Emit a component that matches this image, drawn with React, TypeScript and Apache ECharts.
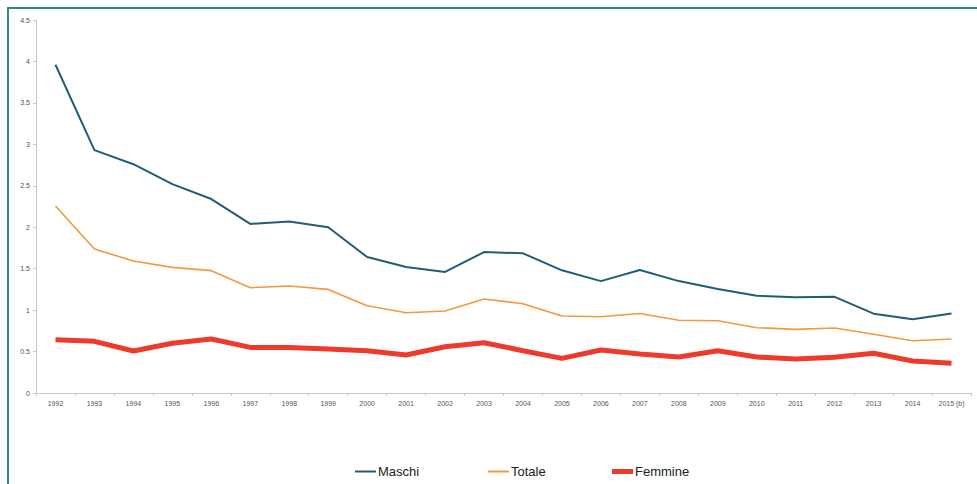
import React, { useEffect, useRef } from "react";
import * as echarts from "echarts";

const years = [
  "1992", "1993", "1994", "1995", "1996", "1997", "1998", "1999", "2000", "2001", "2002", "2003",
  "2004", "2005", "2006", "2007", "2008", "2009", "2010", "2011", "2012", "2013", "2014", "2015 (b)",
];

const maschi = [
  3.96, 2.93, 2.76, 2.52, 2.34, 2.04, 2.07, 2.0, 1.64, 1.52, 1.46, 1.7,
  1.685, 1.48, 1.35, 1.484, 1.35, 1.254, 1.174, 1.154, 1.16, 0.957, 0.889, 0.96,
];

const totale = [
  2.256, 1.737, 1.592, 1.516, 1.476, 1.27, 1.29, 1.25, 1.053, 0.969, 0.989, 1.134,
  1.077, 0.929, 0.92, 0.96, 0.877, 0.872, 0.788, 0.768, 0.784, 0.708, 0.631, 0.651,
];

const femmine = [
  0.643, 0.623, 0.507, 0.6, 0.651, 0.55, 0.55, 0.53, 0.51, 0.458, 0.558, 0.607,
  0.51, 0.418, 0.519, 0.47, 0.434, 0.51, 0.434, 0.41, 0.43, 0.479, 0.386, 0.358,
];

const FONT = "Liberation Sans, Arial, sans-serif";

// one legend block per series so each swatch can carry its own line thickness
function legendFor(name: string, left: number, thickness: number) {
  return {
    data: [name],
    left: left - 5,
    top: 460,
    height: 16,
    icon: "rect",
    itemWidth: 21,
    itemHeight: thickness,
    textStyle: { color: "#222", fontSize: 13, fontFamily: FONT, padding: [0, 0, 0, -3] },
  };
}

export default function App() {
  const ref = useRef<HTMLDivElement>(null);

  useEffect(() => {
    if (!ref.current) return;
    const chart = echarts.init(ref.current, null, { renderer: "svg" });
    const axisColor = "#c8c8c8";
    const labelStyle = { color: "#555555", fontSize: 7, fontFamily: FONT };
    chart.setOption({
      animation: false,
      backgroundColor: "#fff",
      graphic: [
        {
          type: "rect",
          shape: { x: 8, y: 8, width: 1100, height: 600 },
          style: { fill: "none", stroke: "#2f8a84", lineWidth: 2 },
          silent: true,
        },
      ],
      grid: { left: 36, right: 6, top: 20, bottom: 91, containLabel: false },
      legend: [
        legendFor("Maschi", 355, 2),
        legendFor("Totale", 488, 2),
        legendFor("Femmine", 612, 5),
      ],
      xAxis: {
        type: "category",
        data: years,
        boundaryGap: true,
        axisLine: { lineStyle: { color: axisColor, width: 1 } },
        axisTick: { show: true, length: 3, lineStyle: { color: axisColor } },
        axisLabel: { ...labelStyle, margin: 7, interval: 0 },
        splitLine: { show: false },
      },
      yAxis: {
        type: "value",
        min: 0,
        max: 4.5,
        interval: 0.5,
        axisLine: { show: true, lineStyle: { color: axisColor, width: 1 } },
        axisTick: { show: true, length: 3, lineStyle: { color: axisColor } },
        axisLabel: { ...labelStyle, margin: 6 },
        splitLine: { show: false },
      },
      series: [
        {
          name: "Maschi",
          type: "line",
          data: maschi,
          symbol: "none",
          lineStyle: { color: "#215d75", width: 2 },
          itemStyle: { color: "#215d75" },
        },
        {
          name: "Totale",
          type: "line",
          data: totale,
          symbol: "none",
          lineStyle: { color: "#f5973f", width: 1.6 },
          itemStyle: { color: "#f5973f" },
        },
        {
          name: "Femmine",
          type: "line",
          data: femmine,
          symbol: "none",
          lineStyle: { color: "#ee3a2a", width: 5 },
          itemStyle: { color: "#ee3a2a" },
        },
      ],
    });
    return () => chart.dispose();
  }, []);

  return (
    <div
      ref={ref}
      style={{ position: "fixed", left: 0, top: 0, width: 977, height: 484, background: "#fff" }}
    />
  );
}
